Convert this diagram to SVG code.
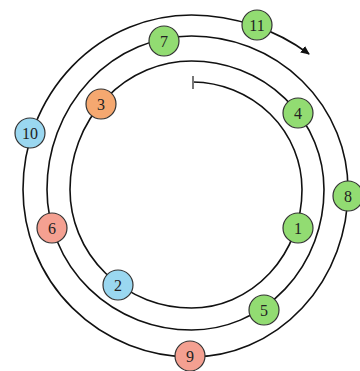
<svg xmlns="http://www.w3.org/2000/svg" width="360" height="371" viewBox="0 0 360 371">
<style>
.sp{fill:none;stroke:#111;stroke-width:1.6}
.n circle{stroke:#333;stroke-width:1.2}
.g{fill:#92dc72}
.o{fill:#f5a870}
.p{fill:#f4a091}
.b{fill:#9ad7f0}
.n text{font-family:"Liberation Serif",serif;font-size:16px;fill:#222;text-anchor:middle;dominant-baseline:central}
</style>
<defs>
<marker id="ah" markerWidth="10" markerHeight="10" refX="8" refY="4" orient="auto" markerUnits="userSpaceOnUse">
<path d="M0,0 L9,4 L0,8 Z" fill="#111"/>
</marker>
</defs>
<rect width="360" height="371" fill="#fff"/>
<g id="connectors">
<path class="sp" marker-end="url(#ah)" d="M193,82 A110.5,107.5 0 0 1 302,189.5 A110.5,118.5 0 0 1 191.5,308 A121.5,118.5 0 0 1 70,189.5 A121.5,128.5 0 0 1 191.5,61 A132.5,128.5 0 0 1 324,189.5 A132.5,140.5 0 0 1 191.5,330 A144.5,140.5 0 0 1 47,189.5 A144.5,153.5 0 0 1 191.5,36 A156.5,153.5 0 0 1 348,189.5 A156.5,167.5 0 0 1 191.5,357 A168.5,167.5 0 0 1 23,189.5 A168.5,174.5 0 0 1 191.5,15 A190,174.5 0 0 1 309,54"/>
<line x1="193" y1="76" x2="193" y2="89" stroke="#777" stroke-width="2"/>
</g>
<g id="n1" class="n"><circle class="g" cx="298" cy="228" r="15"/><text x="298" y="228">1</text></g>
<g id="n2" class="n"><circle class="b" cx="118" cy="285" r="15"/><text x="118" y="285">2</text></g>
<g id="n3" class="n"><circle class="o" cx="101" cy="104" r="15"/><text x="101" y="104">3</text></g>
<g id="n4" class="n"><circle class="g" cx="298" cy="113" r="15"/><text x="298" y="113">4</text></g>
<g id="n5" class="n"><circle class="g" cx="264" cy="310" r="15"/><text x="264" y="310">5</text></g>
<g id="n6" class="n"><circle class="p" cx="52" cy="228" r="15"/><text x="52" y="228">6</text></g>
<g id="n7" class="n"><circle class="g" cx="164" cy="41" r="15"/><text x="164" y="41">7</text></g>
<g id="n8" class="n"><circle class="g" cx="348" cy="196" r="15"/><text x="348" y="196">8</text></g>
<g id="n9" class="n"><circle class="p" cx="190" cy="356" r="15"/><text x="190" y="356">9</text></g>
<g id="n10" class="n"><circle class="b" cx="30" cy="133" r="15"/><text x="30" y="133">10</text></g>
<g id="n11" class="n"><circle class="g" cx="257" cy="25" r="15"/><text x="257" y="25">11</text></g>
</svg>
